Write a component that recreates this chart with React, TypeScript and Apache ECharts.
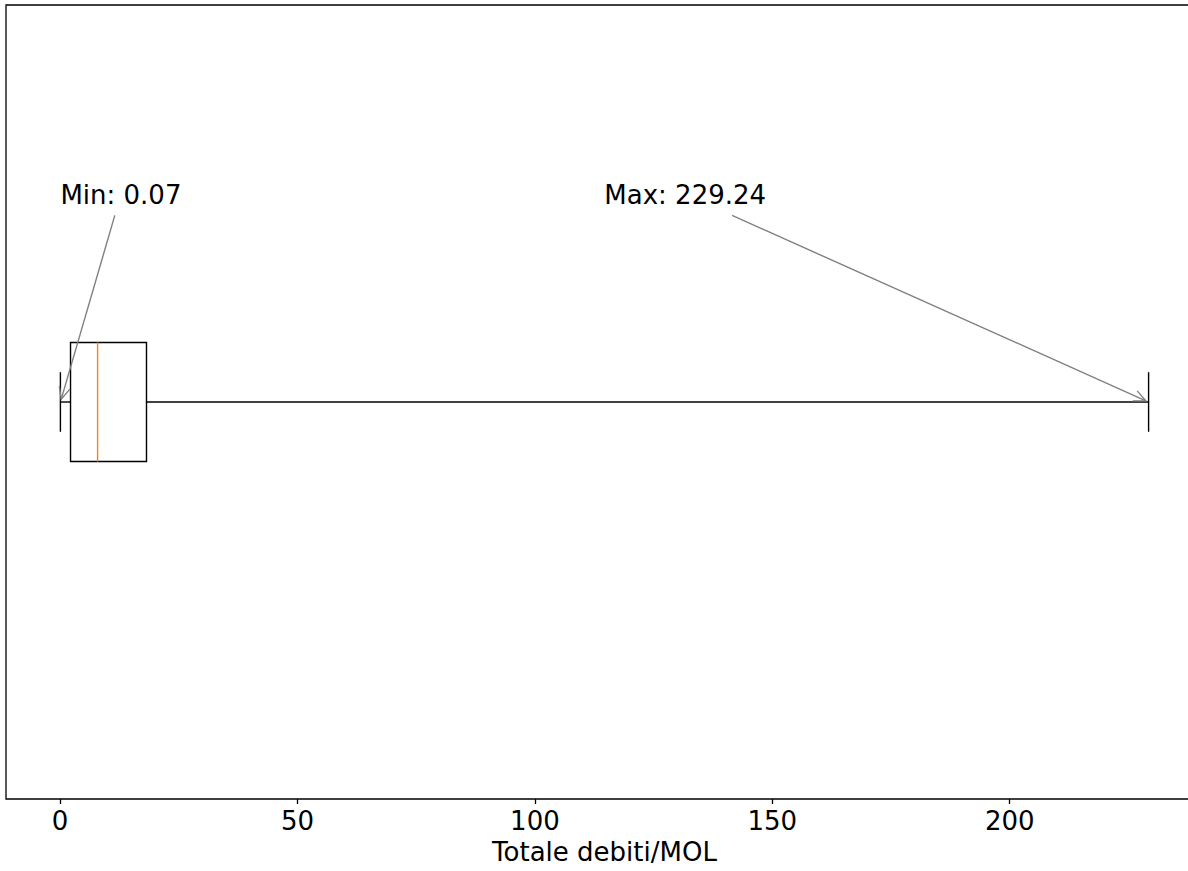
import React, { useEffect, useRef } from "react";
import * as echarts from "echarts";

// Box statistics: min (lower whisker), Q1, median, Q3, max (upper whisker)
const boxStats = [0.07, 2.2, 7.9, 18.2, 229.24];
const xTicks = [0, 50, 100, 150, 200];
const axisName = "Totale debiti/MOL";
const annotationTexts = ["Min: 0.07", "Max: 229.24"];
const annotationTargets = [0.07, 229.24];
const annotationTextX = [0.07, 114.62];
const annotationTextY = 1.25;
const boxPosition = 1;

const FONT_SIZE = 26;
const FONT_FAMILY = "DejaVu Sans";

function measure(text: string): number {
  const cv = document.createElement("canvas");
  const ctx = cv.getContext("2d");
  if (!ctx) return text.length * FONT_SIZE * 0.6;
  ctx.font = `${FONT_SIZE}px "${FONT_FAMILY}"`;
  return ctx.measureText(text).width;
}

export default function App() {
  const ref = useRef<HTMLDivElement>(null);

  useEffect(() => {
    if (!ref.current) return;
    const chart = echarts.init(ref.current, undefined, { renderer: "svg" });
    const [mn, q1, md, q3, mx] = boxStats;
    const span = mx - mn;
    const xMin = mn - 0.05 * span;
    const xMax = mx + 0.05 * span;
    const hw = 0.075;
    const cw = 0.0375;
    const black = "#000000";
    const lw = 1.4;

    const renderItem = (params: any, api: any) => {
      const c = (x: number, y: number) => api.coord([x, y]);
      const line = (a: number[], b: number[], color: string, w = lw) => ({
        type: "line",
        shape: { x1: a[0], y1: a[1], x2: b[0], y2: b[1] },
        style: { stroke: color, lineWidth: w, fill: null },
      });
      const children: any[] = [];
      // box
      children.push({
        type: "polygon",
        shape: {
          points: [c(q1, boxPosition - hw), c(q3, boxPosition - hw), c(q3, boxPosition + hw), c(q1, boxPosition + hw)],
        },
        style: { stroke: black, lineWidth: lw, fill: null },
      });
      // whiskers
      children.push(line(c(mn, boxPosition), c(q1, boxPosition), black));
      children.push(line(c(q3, boxPosition), c(mx, boxPosition), black));
      // caps
      children.push(line(c(mn, boxPosition - cw), c(mn, boxPosition + cw), black));
      children.push(line(c(mx, boxPosition - cw), c(mx, boxPosition + cw), black));
      // median
      children.push(line(c(md, boxPosition - hw), c(md, boxPosition + hw), "#ff7f0e"));

      // annotations
      annotationTexts.forEach((t, i) => {
        const p = c(annotationTextX[i], annotationTextY);
        const w = measure(t);
        children.push({
          type: "text",
          x: p[0],
          y: p[1] - 0.34 * FONT_SIZE,
          style: {
            text: t,
            fill: black,
            fontSize: FONT_SIZE,
            fontFamily: FONT_FAMILY,
            align: "left",
            verticalAlign: "middle",
          },
        });
        const cx = p[0] + w / 2;
        const cy = p[1] - 0.35 * FONT_SIZE;
        const tgt = c(annotationTargets[i], boxPosition);
        const dx = tgt[0] - cx;
        const dy = tgt[1] - cy;
        const len = Math.sqrt(dx * dx + dy * dy);
        const ux = dx / len;
        const uy = dy / len;
        const tStart = 21 / uy;
        const start = [cx + ux * tStart, cy + uy * tStart];
        const end = [tgt[0] - ux * 3, tgt[1] - uy * 3];
        const gray = "#808080";
        children.push(line(start, end, gray, 1.4));
        const hl = 12;
        const hwid = 5.5;
        const px = -uy;
        const py = ux;
        children.push({
          type: "polyline",
          shape: {
            points: [
              [end[0] - ux * hl + px * hwid, end[1] - uy * hl + py * hwid],
              end,
              [end[0] - ux * hl - px * hwid, end[1] - uy * hl - py * hwid],
            ],
          },
          style: { stroke: gray, lineWidth: 1.4, fill: null },
        });
      });

      return { type: "group", children };
    };

    chart.setOption({
      animation: false,
      grid: {
        left: 6,
        top: 5,
        width: 1197,
        height: 794,
        show: true,
        borderColor: "#000",
        borderWidth: 1.3,
        backgroundColor: "transparent",
      },
      xAxis: {
        type: "value",
        min: xMin,
        max: xMax,
        axisLine: { show: false },
        splitLine: { show: false },
        axisTick: {
          show: true,
          length: 5,
          inside: false,
          customValues: xTicks,
          lineStyle: { color: "#000", width: 1.3 },
        },
        axisLabel: {
          customValues: xTicks,
          fontSize: FONT_SIZE,
          fontFamily: FONT_FAMILY,
          color: "#000",
          margin: 9,
        },
        name: axisName,
        nameLocation: "middle",
        nameGap: 40,
        nameTextStyle: { fontSize: FONT_SIZE, fontFamily: FONT_FAMILY, color: "#000" },
      },
      yAxis: {
        type: "value",
        min: 0.5,
        max: 1.5,
        axisLine: { show: false },
        axisTick: { show: false },
        axisLabel: { show: false },
        splitLine: { show: false },
      },
      series: [
        {
          type: "custom",
          renderItem,
          data: [[md, boxPosition]],
          clip: false,
          silent: true,
        },
      ],
    });

    return () => chart.dispose();
  }, []);

  return (
    <div
      style={{
        position: "fixed",
        left: 0,
        top: 0,
        width: 1188,
        height: 871,
        overflow: "hidden",
        background: "#fff",
      }}
    >
      <div ref={ref} style={{ width: 1215, height: 871 }} />
    </div>
  );
}
